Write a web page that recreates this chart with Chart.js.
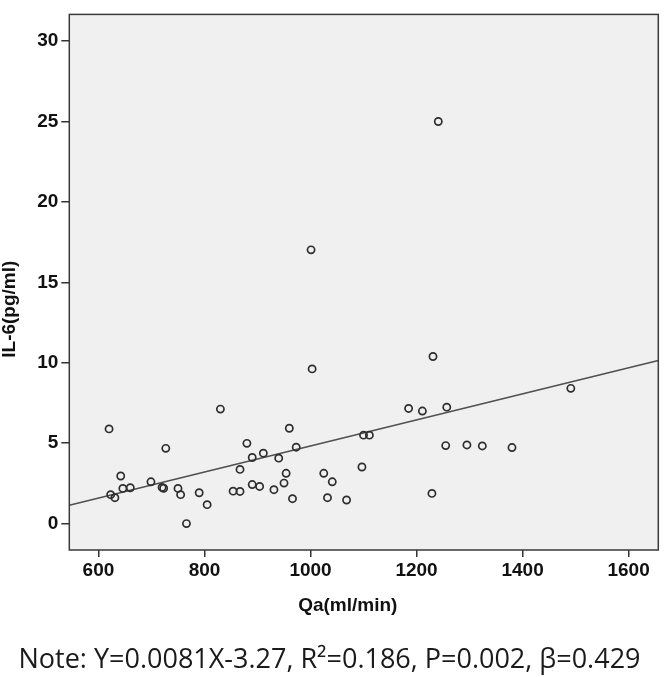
<!DOCTYPE html>
<html>
<head>
<meta charset="utf-8">
<title>IL-6 vs Qa</title>
<script src="https://cdn.jsdelivr.net/npm/chart.js@4.4.1/dist/chart.umd.min.js"></script>
<style>
  html, body { margin: 0; padding: 0; background: #fff; }
  #wrap { position: relative; width: 664px; height: 677px; }
</style>
</head>
<body>
<div id="wrap"><canvas id="scatterQa" width="664" height="677"></canvas></div>
<script>
// Qa (ml/min) for each patient
var qaValues = [620, 623, 631, 642, 646, 660, 699, 720, 723, 727, 750, 755, 766, 790, 805,
  830, 854, 867, 867, 880, 890, 890, 904, 911, 931, 940, 950, 954, 960, 966, 973,
  1001, 1003, 1025, 1032, 1041, 1068, 1097, 1100, 1111, 1185, 1211, 1229, 1231, 1241,
  1255, 1257, 1295, 1324, 1380, 1491];
// IL-6 (pg/ml), same order
var il6Values = [5.89, 1.80, 1.61, 2.96, 2.19, 2.23, 2.60, 2.25, 2.20, 4.68, 2.19, 1.80, 0.0, 1.92, 1.18,
  7.12, 2.02, 2.00, 3.37, 4.99, 4.11, 2.43, 2.31, 4.38, 2.11, 4.07, 2.52, 3.13, 5.93, 1.55, 4.75,
  17.02, 9.62, 3.13, 1.61, 2.60, 1.47, 3.52, 5.50, 5.50, 7.16, 7.00, 1.88, 10.39, 25.0,
  4.85, 7.24, 4.89, 4.83, 4.73, 8.41];

// fitted line from the note
var fitSlope = 0.0081;
var fitIntercept = -3.27;

var xRange = [545, 1656];
var yRange = [-1.64, 31.66];
var xTitle = 'Qa(ml/min)';
var yTitle = 'IL-6(pg/ml)';
var noteText = 'Note: Y=0.0081X-3.27, R\u00B2=0.186, P=0.002, \u03B2=0.429';

function buildPoints(xs, ys) {
  var pts = [];
  for (var i = 0; i < xs.length; i++) {
    pts.push({ x: xs[i], y: ys[i] });
  }
  return pts;
}

function buildFitLine() {
  return xRange.map(function (x) {
    return { x: x, y: fitSlope * x + fitIntercept };
  });
}

var axisFont = { family: '"Liberation Sans", Arial, sans-serif', size: 19, weight: 'bold' };
var axisFontCss = 'bold 19px "Liberation Sans", Arial, sans-serif';

// grey plot background + frame like SPSS, axis titles sit a bit off-centre there
var plotFrame = {
  id: 'plotFrame',
  beforeDatasetsDraw: function (chart) {
    var a = chart.chartArea, ctx = chart.ctx;
    ctx.save();
    ctx.fillStyle = '#f0f0f0';
    ctx.fillRect(a.left, a.top, a.right - a.left, a.bottom - a.top);
    ctx.restore();
  },
  afterDatasetsDraw: function (chart) {
    var a = chart.chartArea, ctx = chart.ctx;
    ctx.save();
    ctx.strokeStyle = '#3a3a3a';
    ctx.lineWidth = 1.5;
    ctx.strokeRect(a.left, a.top, a.right - a.left, a.bottom - a.top);

    ctx.fillStyle = '#111';
    ctx.font = axisFontCss;
    ctx.textAlign = 'center';
    ctx.textBaseline = 'middle';
    // x title
    ctx.fillText(xTitle, (a.left + a.right) / 2 - 16, a.bottom + 56);
    // y title, rotated
    ctx.translate(10, (a.top + a.bottom) / 2 + 27);
    ctx.rotate(-Math.PI / 2);
    ctx.fillText(yTitle, 0, 0);
    ctx.restore();
  }
};

new Chart(document.getElementById('scatterQa'), {
  type: 'scatter',
  data: {
    datasets: [{
      data: buildPoints(qaValues, il6Values),
      pointStyle: 'circle',
      pointRadius: 3.6,
      pointBorderWidth: 1.7,
      borderColor: '#2e2e2e',
      backgroundColor: 'rgba(0,0,0,0)',
      order: 1
    }, {
      data: buildFitLine(),
      showLine: true,
      pointRadius: 0,
      borderColor: '#505050',
      borderWidth: 1.6,
      order: 2
    }]
  },
  options: {
    responsive: false,
    animation: false,
    events: [],
    layout: { padding: { left: 0, right: 5, top: 7.5, bottom: 0 } },
    plugins: {
      legend: { display: false },
      tooltip: { enabled: false },
      title: {
        display: true,
        position: 'bottom',
        text: noteText,
        color: '#1a1a1a',
        font: { family: '"Open Sans", "Noto Sans", sans-serif', size: 27, weight: 'normal', lineHeight: 1 },
        padding: { top: 16.5, bottom: 3.5 }
      }
    },
    scales: {
      x: {
        type: 'linear',
        min: xRange[0],
        max: xRange[1],
        afterFit: function (scale) { scale.height = 80; },
        ticks: {
          stepSize: 200, includeBounds: false, color: '#111', font: axisFont, padding: 2, maxRotation: 0,
          callback: function (v) { return String(v); }
        },
        grid: { drawOnChartArea: false, drawTicks: true, tickLength: 7, color: '#333', lineWidth: 1.5 },
        border: { display: false },
        title: { display: false }
      },
      y: {
        type: 'linear',
        min: yRange[0],
        max: yRange[1],
        afterFit: function (scale) { scale.width = 69.3; },
        ticks: {
          stepSize: 5, includeBounds: false, color: '#111', font: axisFont, padding: 3,
          callback: function (v) { return String(v); }
        },
        grid: { drawOnChartArea: false, drawTicks: true, tickLength: 8, color: '#333', lineWidth: 1.5 },
        border: { display: false },
        title: { display: false }
      }
    }
  },
  plugins: [plotFrame]
});
</script>
</body>
</html>
